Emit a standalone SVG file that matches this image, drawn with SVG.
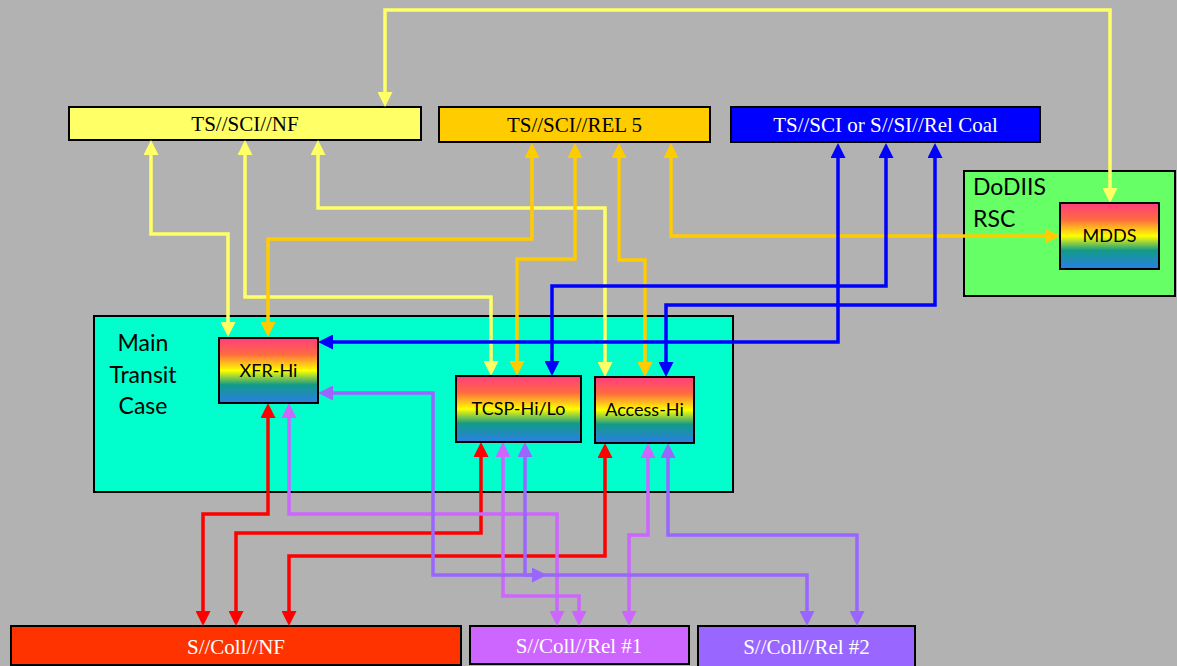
<svg xmlns="http://www.w3.org/2000/svg" width="1177" height="666" viewBox="0 0 1177 666">
<style>
.bar{stroke:#000;stroke-width:2}
.bt{font-family:"Liberation Serif","Times New Roman",serif;font-size:21px;text-anchor:middle}
.st{font-family:Lato,"Open Sans",sans-serif;text-anchor:middle;fill:#000}
.lt{font-family:Lato,"Open Sans",sans-serif;text-anchor:start;fill:#000}
.node{stroke:#000;stroke-width:2;fill:url(#rb)}
.c{fill:none;stroke-width:3.5;stroke-linejoin:miter}
.y{stroke:#FFFF66;marker-start:url(#ay);marker-end:url(#ay)}
.o{stroke:#FFCC00;marker-start:url(#ao);marker-end:url(#ao)}
.b{stroke:#0000FF;marker-start:url(#ab);marker-end:url(#ab)}
.r{stroke:#FF0000;marker-start:url(#ar);marker-end:url(#ar)}
.p{stroke:#CC66FF;marker-start:url(#ap);marker-end:url(#ap)}
.q{stroke:#9966FF;marker-start:url(#aq);marker-end:url(#aq)}
</style>
<defs>
<linearGradient id="rb" x1="0" y1="0" x2="0" y2="1">
<stop offset="0" stop-color="#FF3D80"/>
<stop offset="0.25" stop-color="#FF6A40"/>
<stop offset="0.5" stop-color="#FFFF00"/>
<stop offset="0.72" stop-color="#129A88"/>
<stop offset="1" stop-color="#2B7FE6"/>
</linearGradient>
<marker id="ay" viewBox="0 0 15 15" refX="7" refY="7.5" markerWidth="15" markerHeight="15" markerUnits="userSpaceOnUse" orient="auto-start-reverse"><path d="M0,0L15,7.5L0,15z" fill="#FFFF66"/></marker>
<marker id="ao" viewBox="0 0 15 15" refX="7" refY="7.5" markerWidth="15" markerHeight="15" markerUnits="userSpaceOnUse" orient="auto-start-reverse"><path d="M0,0L15,7.5L0,15z" fill="#FFCC00"/></marker>
<marker id="ab" viewBox="0 0 15 15" refX="7" refY="7.5" markerWidth="15" markerHeight="15" markerUnits="userSpaceOnUse" orient="auto-start-reverse"><path d="M0,0L15,7.5L0,15z" fill="#0000FF"/></marker>
<marker id="ar" viewBox="0 0 15 15" refX="7" refY="7.5" markerWidth="15" markerHeight="15" markerUnits="userSpaceOnUse" orient="auto-start-reverse"><path d="M0,0L15,7.5L0,15z" fill="#FF0000"/></marker>
<marker id="ap" viewBox="0 0 15 15" refX="7" refY="7.5" markerWidth="15" markerHeight="15" markerUnits="userSpaceOnUse" orient="auto-start-reverse"><path d="M0,0L15,7.5L0,15z" fill="#CC66FF"/></marker>
<marker id="aq" viewBox="0 0 15 15" refX="7" refY="7.5" markerWidth="15" markerHeight="15" markerUnits="userSpaceOnUse" orient="auto-start-reverse"><path d="M0,0L15,7.5L0,15z" fill="#9966FF"/></marker>
</defs>
<rect x="0" y="0" width="1177" height="666" fill="#B2B2B2"/>

<g id="main-transit-case">
<rect x="94" y="316" width="639" height="176" fill="#00FFCC" class="bar"/>
<text class="st" font-size="23" x="143" y="351">Main</text>
<text class="st" font-size="23" x="143" y="383">Transit</text>
<text class="st" font-size="23" x="143" y="414">Case</text>
</g>
<g id="dodiis-rsc">
<rect x="964" y="171" width="211" height="125" fill="#66FF66" class="bar"/>
<text class="lt" font-size="23" x="973" y="195">DoDIIS</text>
<text class="lt" font-size="23" x="973" y="227">RSC</text>
</g>

<g id="ts-sci-nf">
<rect x="69" y="107" width="352" height="33" fill="#FFFF66" class="bar"/>
<text class="bt" x="245" y="131" fill="#000">TS//SCI//NF</text>
</g>
<g id="ts-sci-rel5">
<rect x="439" y="107" width="271" height="35" fill="#FFCC00" class="bar"/>
<text class="bt" x="574.5" y="132" fill="#000">TS//SCI//REL 5</text>
</g>
<g id="ts-sci-rel-coal">
<rect x="731" y="107" width="309" height="35" fill="#0000FF" class="bar"/>
<text class="bt" x="885.5" y="132" fill="#FFF">TS//SCI or S//SI//Rel Coal</text>
</g>

<g id="s-coll-nf">
<rect x="11" y="626" width="450" height="39" fill="#FF3300" class="bar"/>
<text class="bt" x="236" y="654" fill="#FFF">S//Coll//NF</text>
</g>
<g id="s-coll-rel1">
<rect x="470" y="626" width="219" height="38" fill="#CC66FF" class="bar"/>
<text class="bt" x="579" y="653" fill="#FFF">S//Coll//Rel #1</text>
</g>
<g id="s-coll-rel2">
<rect x="698" y="626" width="217" height="42" fill="#9966FF" class="bar"/>
<text class="bt" x="806.5" y="654" fill="#FFF">S//Coll//Rel #2</text>
</g>

<g id="connectors">
<path class="c y" d="M151,148V234H228V329"/>
<path class="c y" d="M245,148V297H491V368"/>
<path class="c y" d="M318,148V208H605V369"/>
<path class="c y" d="M1110,195V10H385V99"/>
<path class="c o" d="M532,151V239H268V329"/>
<path class="c o" d="M575,151V259H517V368"/>
<path class="c o" d="M619,151V260H645V369"/>
<path class="c o" d="M671,151V236H1052"/>
<path class="c b" d="M838,151V342H326"/>
<path class="c b" d="M886,151V286H552V368"/>
<path class="c b" d="M935,151V305H666V369"/>
<path class="c r" d="M268,411V514H203V618"/>
<path class="c r" d="M481,450V533H236V618"/>
<path class="c r" d="M605,451V556H289V618"/>
<path class="c p" d="M289,411V514H557V618"/>
<path class="c p" d="M503,450V596H579V618"/>
<path class="c p" d="M648,451V535H629V618"/>
<path class="c q" d="M326,393H433V575H807V618"/>
<path class="c q" d="M525,450V575H539"/>
<path class="c q" d="M668,451V535H857V618"/>
</g>

<g id="xfr-hi">
<rect x="219" y="338" width="99" height="65" class="node"/>
<text class="st" font-size="18" x="268.5" y="377">XFR-Hi</text>
</g>
<g id="tcsp-hi-lo">
<rect x="456" y="376" width="125" height="66" class="node"/>
<text class="st" font-size="18" x="518.5" y="415">TCSP-Hi/Lo</text>
</g>
<g id="access-hi">
<rect x="595" y="377" width="99" height="66" class="node"/>
<text class="st" font-size="18" x="644.5" y="416">Access-Hi</text>
</g>
<g id="mdds">
<rect x="1060" y="203" width="99" height="66" class="node"/>
<text class="st" font-size="18" x="1109.5" y="242">MDDS</text>
</g>
</svg>
